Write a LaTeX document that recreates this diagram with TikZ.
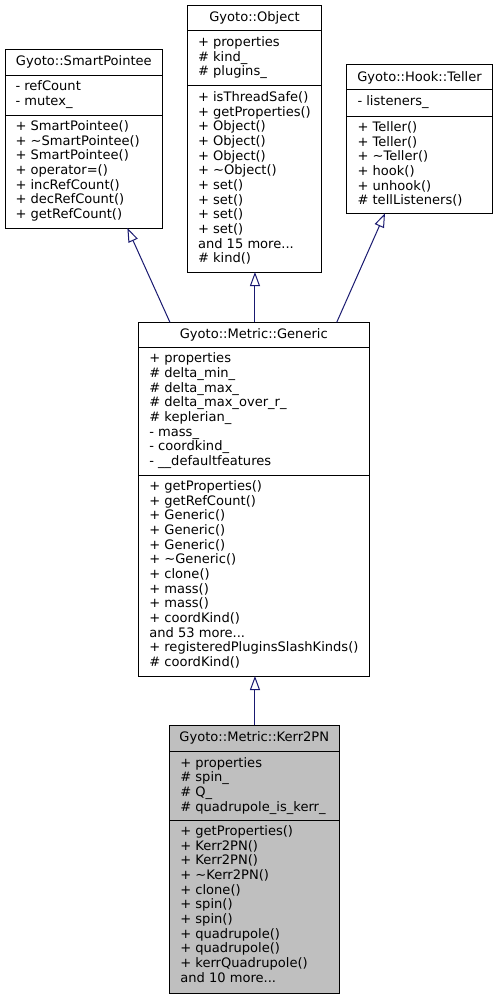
\documentclass[tikz,border=0pt]{standalone}
\usepackage{fontspec}
\setmainfont{DejaVu Sans}
\usetikzlibrary{arrows.meta,calc}
\definecolor{edgeblue}{HTML}{191970}
\definecolor{rootfill}{HTML}{BFBFBF}
\newcommand\mydots{...}
\newcommand\umlbox[8]{%
  \node[cls, fill=#8, minimum width={(#3-#2)*0.75pt}, minimum height={(#7-#4)*0.75pt}] (#1) at (#2,#4) {};
  \draw[sepl] (#2,#5) -- (#3,#5);
  \draw[sepl] (#2,#6) -- (#3,#6);
}
\newcommand\umltitle[5]{% name, left, right, top, text
  \node[ttl] (#1) at ({(#2+#3)/2}, #4+16) {#5};
}
\newcommand\umlmembers[4]{% prefix, x, sep y, list
  \foreach \t [count=\i] in {#4} \node[mem] (#1\i) at (#2, #3+15.6+\i*14.67-14.67) {\t};
}
\begin{document}
\begin{tikzpicture}[x=0.75pt,y=-0.75pt,
  cls/.style={draw=black, line width=0.75pt, inner sep=0pt, outer sep=0pt, anchor=north west},
  sepl/.style={draw=black, line width=0.75pt},
  mem/.style={anchor=base west, inner sep=0pt, outer sep=0pt, font=\fontsize{9.8}{11}\selectfont},
  ttl/.style={anchor=base, inner sep=0pt, outer sep=0pt, font=\fontsize{9.8}{11}\selectfont},
  inh/.style={draw=edgeblue, line width=0.75pt, -{Triangle[open,length=10.5pt,width=7.5pt]}}]
\fill[white] (0,0) rectangle (499,999);
\useasboundingbox (0,0) rectangle (499,999);

% Gyoto::SmartPointee
\umlbox{sp}{5}{162.7}{50}{75.3}{115}{228}{white}
\umltitle{spt}{5}{162.7}{50}{Gyoto::SmartPointee}
\umlmembers{spa}{15.5}{75.3}{- refCount, - mutex\_}
\umlmembers{spm}{15.5}{115}{+ SmartPointee(), + \textasciitilde SmartPointee(), + SmartPointee(), + operator=(), + incRefCount(), + decRefCount(), + getRefCount()}

% Gyoto::Object
\umlbox{obj}{187.3}{321.7}{5.3}{31}{86}{272}{white}
\umltitle{objt}{187.3}{321.7}{5.3}{Gyoto::Object}
\umlmembers{obja}{198}{31}{+ properties, \# kind\_, \# plugins\_}
\umlmembers{objm}{198}{86}{+ isThreadSafe(), + getProperties(), + Object(), + Object(), + Object(), + \textasciitilde Object(), + set(), + set(), + set(), + set(), and 15 more\mydots, \# kind()}

% Gyoto::Hook::Teller
\umlbox{tel}{346.7}{492.3}{65}{89.7}{116}{213.3}{white}
\umltitle{telt}{346.7}{492.3}{65}{Gyoto::Hook::Teller}
\umlmembers{tela}{357.5}{89.7}{- listeners\_}
\umlmembers{telm}{357.5}{116}{+ Teller(), + Teller(), + \textasciitilde Teller(), + hook(), + unhook(), \# tellListeners()}

% Gyoto::Metric::Generic
\umlbox{gen}{138.3}{369.3}{322.3}{347.3}{475}{676}{white}
\umltitle{gent}{138.3}{369.3}{322.3}{Gyoto::Metric::Generic}
\umlmembers{gena}{149.3}{347.3}{+ properties, \# delta\_min\_, \# delta\_max\_, \# delta\_max\_over\_r\_, \# keplerian\_, - mass\_, - coordkind\_, - \_\_defaultfeatures}
\umlmembers{genm}{149.3}{475}{+ getProperties(), + getRefCount(), + Generic(), + Generic(), + Generic(), + \textasciitilde Generic(), + clone(), + mass(), + mass(), + coordKind(), and 53 more\mydots, + registeredPluginsSlashKinds(), \# coordKind()}

% Gyoto::Metric::Kerr2PN
\umlbox{kerr}{169.3}{339.3}{725.3}{751.7}{820}{993}{rootfill}
\umltitle{kerrt}{169.3}{339.3}{725.3}{Gyoto::Metric::Kerr2PN}
\umlmembers{kerra}{180.3}{751.7}{+ properties, \# spin\_, \# Q\_, \# quadrupole\_is\_kerr\_}
\umlmembers{kerrm}{180.3}{820}{+ getProperties(), + Kerr2PN(), + Kerr2PN(), + \textasciitilde Kerr2PN(), + clone(), + spin(), + spin(), + quadrupole(), + quadrupole(), + kerrQuadrupole(), and 10 more\mydots}

% inheritance edges
\coordinate (gtop) at ($(gen.north west)!0.505!(gen.north east)$);
\coordinate (gbot) at ($(gen.south west)!0.505!(gen.south east)$);
\draw[inh] ($(gen.north west)!0.137!(gen.north east)$) -- ($(sp.south west)!0.776!(sp.south east)$);
\draw[inh] (gtop) -- (gtop |- obj.south);
\draw[inh] ($(gen.north west)!0.859!(gen.north east)$) -- ($(tel.south west)!0.263!(tel.south east)$);
\draw[inh] (gbot |- kerr.north) -- (gbot);
\end{tikzpicture}
\end{document}
